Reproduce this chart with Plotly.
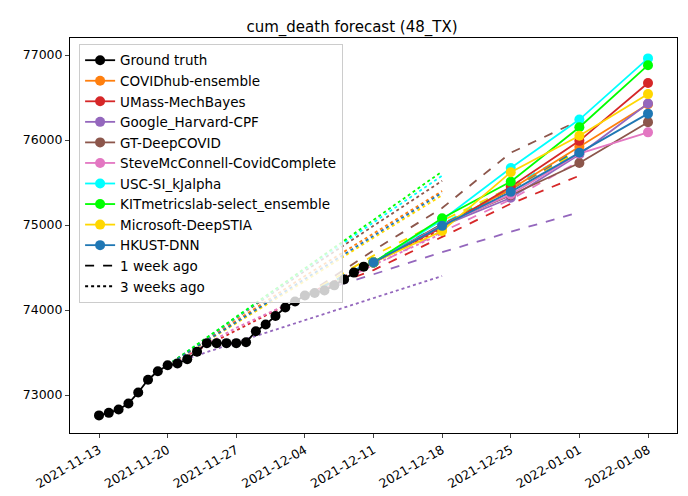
import plotly.graph_objects as go
import pandas as pd

gt_dates = pd.date_range("2021-11-13", "2021-12-11").strftime("%Y-%m-%d").tolist()
gt_vals = [72760, 72790, 72830, 72900, 73030, 73180, 73280, 73350, 73370, 73420,
           73510, 73610, 73610, 73610, 73610, 73620, 73750, 73830, 73930, 74030,
           74100, 74170, 74200, 74230, 74290, 74360, 74440, 74510, 74560]

models = ["COVIDhub-ensemble", "UMass-MechBayes", "Google_Harvard-CPF", "GT-DeepCOVID",
          "SteveMcConnell-CovidComplete", "USC-SI_kJalpha", "KITmetricslab-select_ensemble",
          "Microsoft-DeepSTIA", "HKUST-DNN"]
colors = ["#ff7f0e", "#d62728", "#9467bd", "#8c564b", "#e377c2", "#00ffff", "#00ff00",
          "#ffd700", "#1f77b4"]

cur_dates = ["2021-12-11", "2021-12-18", "2021-12-25", "2022-01-01", "2022-01-08"]
cur_vals = {
    "COVIDhub-ensemble": [75000, 75420, 75920, 76420],
    "UMass-MechBayes": [74970, 75450, 75990, 76670],
    "Google_Harvard-CPF": [74990, 75320, 75830, 76430],
    "GT-DeepCOVID": [75010, 75350, 75730, 76210],
    "SteveMcConnell-CovidComplete": [75000, 75360, 75840, 76090],
    "USC-SI_kJalpha": [75060, 75670, 76240, 76960],
    "KITmetricslab-select_ensemble": [75080, 75510, 76150, 76880],
    "Microsoft-DeepSTIA": [74930, 75620, 76050, 76540],
    "HKUST-DNN": [74990, 75390, 75850, 76310],
}
wk1_dates = ["2021-12-04", "2021-12-11", "2021-12-18", "2021-12-25", "2022-01-01"]
wk1_vals = {
    "COVIDhub-ensemble": [74560, 74990, 75420, 75870],
    "UMass-MechBayes": [74470, 74860, 75250, 75580],
    "Google_Harvard-CPF": [74420, 74680, 74920, 75150],
    "GT-DeepCOVID": [74700, 75200, 75850, 76230],
    "SteveMcConnell-CovidComplete": [74520, 74920, 75300, 75750],
    "USC-SI_kJalpha": [74580, 75010, 75450, 75900],
    "KITmetricslab-select_ensemble": [74560, 75000, 75430, 75880],
    "Microsoft-DeepSTIA": [74640, 75050, 75440, 75860],
    "HKUST-DNN": [74580, 75000, 75420, 75900],
}
wk3_dates = ["2021-11-20", "2021-11-27", "2021-12-04", "2021-12-11", "2021-12-18"]
wk3_vals = {
    "COVIDhub-ensemble": [73870, 74400, 74900, 75400],
    "UMass-MechBayes": [73760, 74170, 74560, 74950],
    "Google_Harvard-CPF": [73620, 73880, 74140, 74400],
    "GT-DeepCOVID": [73900, 74460, 74990, 75520],
    "SteveMcConnell-CovidComplete": [73790, 74160, 74530, 74900],
    "USC-SI_kJalpha": [73920, 74480, 75030, 75580],
    "KITmetricslab-select_ensemble": [73920, 74500, 75070, 75630],
    "Microsoft-DeepSTIA": [73840, 74340, 74850, 75350],
    "HKUST-DNN": [73860, 74370, 74880, 75380],
}

fig = go.Figure()
for m, c in zip(models, colors):
    fig.add_trace(go.Scatter(x=wk3_dates, y=[gt_vals[7]] + wk3_vals[m], mode="lines",
                             line=dict(color=c, dash="dot", width=1.8), showlegend=False))
    fig.add_trace(go.Scatter(x=wk1_dates, y=[gt_vals[21]] + wk1_vals[m], mode="lines",
                             line=dict(color=c, dash="dash", width=1.8), showlegend=False))
fig.add_trace(go.Scatter(x=gt_dates, y=gt_vals, mode="lines+markers", name="Ground truth",
                         line=dict(color="black", width=1.8), marker=dict(size=10, color="black")))
for m, c in zip(models, colors):
    fig.add_trace(go.Scatter(x=cur_dates, y=[gt_vals[-1]] + cur_vals[m], mode="lines+markers",
                             name=m, line=dict(color=c, width=1.8), marker=dict(size=10, color=c)))
fig.add_trace(go.Scatter(x=[None], y=[None], mode="lines", name="1 week ago",
                         line=dict(color="black", dash="dash", width=1.8)))
fig.add_trace(go.Scatter(x=[None], y=[None], mode="lines", name="3 weeks ago",
                         line=dict(color="black", dash="dot", width=1.8)))

tickdates = pd.date_range("2021-11-13", "2022-01-08", freq="7D").strftime("%Y-%m-%d").tolist()
ytickvals = [73000, 74000, 75000, 76000, 77000]
fig.update_layout(
    width=688, height=496, plot_bgcolor="white", paper_bgcolor="white",
    margin=dict(l=62, r=19, t=30, b=71),
    font=dict(family="DejaVu Sans", size=12, color="black"),
    title=dict(text="cum_death forecast (48_TX)", x=0.5, xanchor="center", y=0.972, font=dict(size=15)),
    legend=dict(x=0.015, y=0.985, xanchor="left", yanchor="top", bgcolor="rgba(255,255,255,0.8)",
                bordercolor="#cccccc", borderwidth=1, font=dict(size=13.5), tracegroupgap=0),
    xaxis=dict(range=["2021-11-10 01:00", "2022-01-10 23:00"], tickvals=tickdates, ticktext=tickdates,
               tickangle=-30, showgrid=False, showline=True, linecolor="black", mirror=True,
               ticks="outside", ticklen=4, tickfont=dict(size=12.5)),
    yaxis=dict(range=[72553, 77200], tickvals=ytickvals, ticktext=[str(v) for v in ytickvals],
               showgrid=False, showline=True, linecolor="black", mirror=True,
               ticks="outside", ticklen=4, zeroline=False, tickfont=dict(size=12.5)),
)
fig.write_html("out.html")
